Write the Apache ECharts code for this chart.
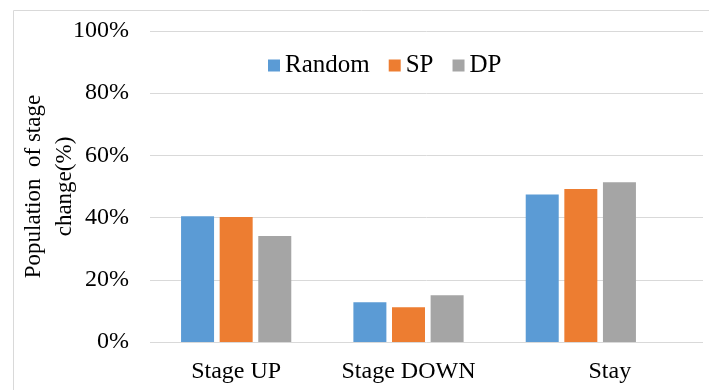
<!DOCTYPE html>
<html>
<head>
<meta charset="utf-8">
<script src="https://cdn.jsdelivr.net/npm/echarts@6/dist/echarts.min.js"></script>
<style>
html,body{margin:0;padding:0;background:#fff;}
#chart{width:709px;height:390px;}
</style>
</head>
<body>
<div id="chart"></div>
<script>
var categories = ['Stage UP', 'Stage DOWN', 'Stay'];
var randomData = [40.4, 12.8, 47.4];
var spData = [40.2, 11.2, 49.2];
var dpData = [34.1, 15.0, 51.4];

var font = 'Liberation Serif';
var chart = echarts.init(document.getElementById('chart'));

function bar(name, data, color) {
	return {
		name: name,
		type: 'bar',
		xAxisIndex: 1,
		yAxisIndex: 1,
		data: data,
		barWidth: 33,
		barGap: '17%',
		itemStyle: { color: color }
	};
}

chart.setOption({
	animation: false,
	graphic: [{
		type: 'rect',
		shape: { x: 13.5, y: 10.5, width: 800, height: 500 },
		style: { fill: 'none', stroke: '#d9d9d9', lineWidth: 1 }
	}],
	legend: {
		left: 263,
		top: 48,
		itemWidth: 12,
		itemHeight: 12,
		itemGap: 19,
		icon: 'rect',
		textStyle: { fontFamily: font, fontSize: 25, color: '#000' },
		data: ['Random', 'SP', 'DP']
	},
	// full width grid carries the gridlines, narrower one carries the bars
	grid: [
		{ left: 150, right: 6, top: 31, bottom: 48 },
		{ left: 150, right: 42, top: 31, bottom: 48 }
	],
	xAxis: [{
		gridIndex: 0,
		type: 'category',
		data: categories,
		show: false
	}, {
		gridIndex: 1,
		type: 'category',
		data: categories,
		axisTick: { show: false },
		axisLine: { show: false },
		axisLabel: {
			interval: 0,
			hideOverlap: false,
			margin: 18,
			fontFamily: font,
			fontSize: 24,
			color: '#000',
			formatter: function (v, i) { return i === 2 ? '{s|' + v + '}' : v; },
			rich: { s: { fontFamily: font, fontSize: 24, color: '#000', padding: [0, 0, 0, 58] } }
		}
	}],
	yAxis: [{
		gridIndex: 0,
		type: 'value',
		min: 0,
		max: 100,
		interval: 20,
		name: 'Population  of stage\nchange(%)',
		nameLocation: 'middle',
		nameRotate: 90,
		nameGap: 70,
		nameMoveOverlap: false,
		nameTextStyle: { fontFamily: font, fontSize: 23, color: '#000', lineHeight: 31 },
		axisLine: { show: false },
		axisTick: { show: false },
		axisLabel: { margin: 21, fontFamily: font, fontSize: 24, color: '#000', formatter: '{value}%' },
		splitLine: { lineStyle: { color: '#d9d9d9', width: 1 } }
	}, {
		gridIndex: 1,
		type: 'value',
		min: 0,
		max: 100,
		interval: 20,
		show: false,
		splitLine: { show: false }
	}],
	series: [
		bar('Random', randomData, '#5b9bd5'),
		bar('SP', spData, '#ed7d31'),
		bar('DP', dpData, '#a5a5a5')
	]
});
</script>
</body>
</html>
